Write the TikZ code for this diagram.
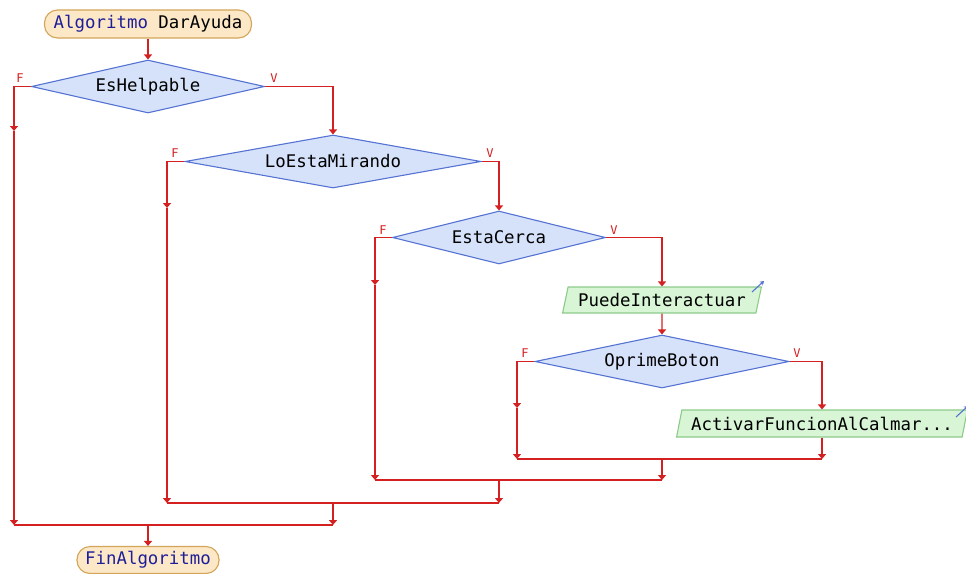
\documentclass[tikz,border=0pt]{standalone}
\usepackage{fontspec}
\usetikzlibrary{shapes.geometric,arrows.meta}
\newfontfamily\psefont{DejaVu Sans Mono}
\definecolor{linered}{HTML}{D42020}
\definecolor{condfill}{HTML}{D6E2FA}
\definecolor{conddraw}{HTML}{5573D2}
\definecolor{outfill}{HTML}{D8F5D6}
\definecolor{outdraw}{HTML}{8CCB88}
\definecolor{termfill}{HTML}{FCE8C6}
\definecolor{termdraw}{HTML}{D2A55A}
\definecolor{keyblue}{HTML}{1E1E9A}
\begin{document}
\begin{tikzpicture}[x=1pt,y=-1pt,
  line/.style={linered,line width=1.3pt},
  flow/.style={line,-{Triangle[width=8pt,length=5pt]}},
  cond/.style={diamond,aspect=5,draw=conddraw,fill=condfill,line width=1.1pt,inner sep=0pt,
    minimum height=53pt,font=\psefont\fontsize{17.4}{20}\selectfont},
  outbox/.style={trapezium,trapezium left angle=70,trapezium right angle=110,
    trapezium stretches=true,draw=outdraw,fill=outfill,line width=1.1pt,inner sep=0pt,
    font=\psefont\fontsize{17.4}{20}\selectfont},
  term/.style={rounded corners=13pt,draw=termdraw,fill=termfill,line width=1.1pt,inner sep=0pt,
    font=\psefont\fontsize{17.4}{20}\selectfont},
  tag/.style={text=linered,font=\psefont\fontsize{12}{13}\selectfont,inner sep=0pt},
  icon/.style={conddraw,line width=1.1pt,-{Stealth[width=5pt,length=4pt]}}]
  \useasboundingbox (0,0) rectangle (966,573);
  % nodes
  \node[term,minimum width=207pt,minimum height=28pt] (start) at (148,24)
    {\textcolor{keyblue}{Algoritmo} DarAyuda};
  \node[cond,minimum width=233pt] (d1) at (148,86.5) {EsHelpable};
  \node[cond,minimum width=296pt] (d2) at (333,161.5) {LoEstaMirando};
  \node[cond,minimum width=213pt] (d3) at (499,237.5) {EstaCerca};
  \node[outbox,minimum width=199pt,minimum height=26pt] (p1) at (662,300) {PuedeInteractuar};
  \node[cond,minimum width=254pt] (d4) at (662,361.5) {OprimeBoton};
  \node[outbox,minimum width=291pt,minimum height=27pt] (p2) at (822,423.5) {ActivarFuncionAlCalmar...};
  \node[term,minimum width=142pt,minimum height=27pt] (end) at (148,560)
    {\textcolor{keyblue}{FinAlgoritmo}};
  % branch labels
  \node[tag] (f1) at (20,78) {F};
  \node[tag] (v1) at (274,78) {V};
  \node[tag] (f2) at (175,153) {F};
  \node[tag] (v2) at (490,153) {V};
  \node[tag] (f3) at (383,230) {F};
  \node[tag] (v3) at (614,230) {V};
  \node[tag] (f4) at (525,353) {F};
  \node[tag] (v4) at (797,353) {V};
  % output icons
  \draw[icon] (752,292) -- (764,281);
  \draw[icon] (956,417) -- (968,406);
  % join points
  \coordinate (a1) at (14,131);  \coordinate (e1) at (14,525);  \coordinate (j1) at (148,525);
  \coordinate (a2) at (167,208); \coordinate (e2) at (167,503); \coordinate (j2) at (333,503);
  \coordinate (a3) at (375,285); \coordinate (e3) at (375,480); \coordinate (j3) at (499,480);
  \coordinate (a4) at (517,408); \coordinate (e4) at (517,459); \coordinate (j4) at (662,459);
  % connectors
  \draw[flow] (start) -- (d1);
  \draw[flow] (d1.east) -| (d2.north);
  \draw[flow] (d2.east) -| (d3.north);
  \draw[flow] (d3.east) -| (p1.north);
  \draw[flow] (p1) -- (d4);
  \draw[flow] (d4.east) -| (p2.north);
  \draw[flow] (d1.west) -| (a1);
  \draw[flow] (a1) -- (e1);
  \draw[flow] (d2.west) -| (a2);
  \draw[flow] (a2) -- (e2);
  \draw[flow] (d3.west) -| (a3);
  \draw[flow] (a3) -- (e3);
  \draw[flow] (d4.west) -| (a4);
  \draw[flow] (a4) -- (e4);
  \draw[flow] (p2.south) -- (p2.south |- e4);
  \draw[line] (e4) -- (p2.south |- e4);
  \draw[flow] (j4) -- (j4 |- e3);
  \draw[line] (e3) -- (j4 |- e3);
  \draw[flow] (j3) -- (j3 |- e2);
  \draw[line] (e2) -- (j3 |- e2);
  \draw[flow] (j2) -- (j2 |- e1);
  \draw[line] (e1) -- (j2 |- e1);
  \draw[flow] (j1) -- (end);
\end{tikzpicture}
\end{document}
